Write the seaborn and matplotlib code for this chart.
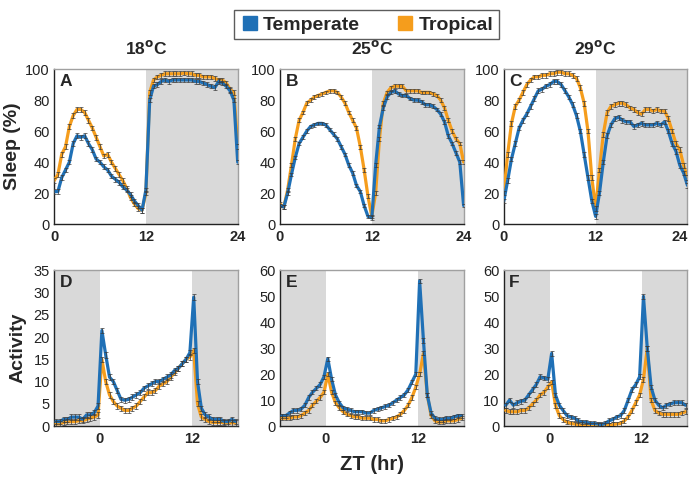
import numpy as np
import pandas as pd
import matplotlib
matplotlib.use("Agg")
import matplotlib.pyplot as plt
from matplotlib.lines import Line2D
import seaborn as sns

# ── Data (30-min bins) ───────────────────────────────────────────────────────
ZT_SLEEP = np.arange(0, 24.01, 0.5)          # 0 .. 24
ZT_ACT = np.arange(-5.75, 18, 0.5)           # -5.75 .. 17.75

TEMPS = ["18", "25", "29"]

sleep_temperate_18 = [21, 21, 30, 35, 40, 52, 57, 56, 57, 52, 48, 42, 40, 37, 35, 31,
                      29, 27, 24, 22, 19, 15, 12, 9, 22, 80, 89, 90, 92, 93, 92, 93,
                      93, 93, 93, 93, 93, 92, 92, 91, 90, 89, 88, 92, 91, 89, 86, 80, 40]
sleep_tropical_18 = [28, 32, 45, 50, 63, 70, 74, 74, 72, 67, 62, 56, 50, 44, 45, 40,
                     36, 32, 28, 23, 17, 13, 10, 9, 20, 85, 93, 95, 96, 97, 97, 97,
                     97, 97, 97.5, 97, 97, 96, 96, 95, 95, 95, 94, 93, 93, 91, 87, 85, 50]

sleep_temperate_25 = [12, 11, 20, 32, 43, 52, 56, 60, 63, 64, 65, 65, 64, 61, 58, 55,
                      50, 45, 38, 33, 25, 21, 12, 5, 4, 38, 63, 75, 82, 85, 86, 84,
                      83, 83, 81, 80, 80, 79, 77, 77, 76, 74, 71, 66, 57, 52, 46, 40, 12]
sleep_tropical_25 = [13, 11, 22, 38, 55, 67, 72, 78, 80, 82, 83, 84, 85, 86, 86, 85,
                     82, 78, 72, 67, 62, 50, 35, 18, 5, 20, 55, 78, 85, 88, 89, 89,
                     89, 86, 86, 86, 86, 85, 85, 85, 84, 83, 80, 75, 67, 60, 55, 52, 40]

sleep_temperate_29 = [15, 28, 42, 52, 62, 67, 71, 76, 81, 86, 87, 89, 90, 92, 92, 90,
                      86, 82, 77, 70, 60, 45, 30, 15, 5, 20, 40, 57, 64, 68, 69, 67,
                      66, 66, 63, 64, 65, 64, 64, 64, 65, 64, 66, 60, 52, 47, 38, 33, 25]
sleep_tropical_29 = [20, 45, 65, 76, 80, 85, 90, 93, 95, 95, 96, 96, 97, 97, 98, 98,
                     97, 97, 96, 94, 88, 78, 60, 30, 10, 35, 58, 72, 76, 77, 78, 78,
                     77, 75, 74, 72, 71, 74, 74, 73, 74, 73, 73, 68, 60, 52, 48, 38, 30]

act_temperate_18 = [1, 1, 1.5, 1.5, 2, 2, 2, 1.5, 2.5, 2.5, 3, 4.5, 21.5, 16, 11, 10,
                    8, 6, 5.8, 6, 6.5, 7, 7.5, 8.5, 9, 9.5, 10, 10, 10.5, 11, 11.5, 12.5,
                    13, 14, 15, 16.5, 29, 10, 4, 2.5, 2, 1.5, 1.5, 1.5, 1, 1, 1.5, 1]
act_tropical_18 = [0.5, 0.5, 0.8, 1, 1, 1, 1.2, 1.2, 1.5, 1.8, 2, 2.5, 15, 10, 7, 5.5,
                   4.5, 4, 3.5, 3.5, 4, 4.5, 5.5, 6.5, 7.5, 7.5, 8, 9, 9.5, 10, 11, 12,
                   13, 14, 15, 15.5, 17, 5, 2, 1.5, 1, 0.8, 0.8, 0.8, 0.8, 0.7, 0.7, 0.7]

act_temperate_25 = [4, 4, 5, 6, 6, 6.5, 8, 11, 13, 14.5, 16, 19, 26, 18, 12, 9,
                    7, 6.5, 6, 5.5, 5.5, 5.5, 5, 5, 6, 6.5, 7, 7.5, 8, 9, 10, 11,
                    12, 14, 17, 20, 56, 33, 12, 5, 3, 2.5, 2.5, 3, 3, 3.5, 4, 4]
act_tropical_25 = [3, 3, 3, 3.5, 3.5, 4, 5, 6, 8, 9.5, 11, 13, 20, 13, 9, 7,
                   5.5, 4.5, 4, 3.5, 3.5, 3, 3, 3, 2.5, 2.5, 2, 2, 2.5, 3, 3.5, 4.5,
                   6, 8, 11, 15, 20, 28, 12, 4, 2, 1.5, 1.5, 2, 2, 2, 2.5, 3]

act_temperate_29 = [8, 10, 8, 9, 9.5, 10, 12, 14, 16, 19, 18.5, 18, 28, 12, 8, 6,
                    4, 3.5, 3, 2, 1.5, 1.5, 1, 1, 0.8, 0.5, 1, 2, 2.5, 3.5, 4, 6,
                    10, 14, 16, 19, 50, 30, 15, 10, 8, 7, 8, 8.5, 9, 9, 9, 8]
act_tropical_29 = [6, 5.5, 5.5, 5.5, 6, 6, 7, 8.5, 10, 12, 13, 15, 17, 8, 4, 2.5,
                   1.5, 1, 0.8, 0.5, 0.5, 0.3, 0.3, 0.3, 0.3, 0.3, 0.3, 0.3, 0.5, 0.8, 1, 2,
                   3.5, 6, 9, 12, 18, 30, 10, 6, 5, 4.5, 4.5, 4.5, 4.5, 4.5, 5, 5.5]

# approximate SEM per panel
sleep_sem = [1.5, 1.2, 1.5]
act_sem = [0.6, 0.8, 0.9]

sleep = {"18": (sleep_temperate_18, sleep_tropical_18),
         "25": (sleep_temperate_25, sleep_tropical_25),
         "29": (sleep_temperate_29, sleep_tropical_29)}
activity = {"18": (act_temperate_18, act_tropical_18),
            "25": (act_temperate_25, act_tropical_25),
            "29": (act_temperate_29, act_tropical_29)}

act_ylim = [35, 60, 60]
act_ystep = [5, 10, 10]

BLUE = "#1f70b6"
ORANGE = "#f59d1c"
SHADE = "#d9d9d9"
palette = {"Temperate": BLUE, "Tropical": ORANGE}

# ── Style ────────────────────────────────────────────────────────────────────
sns.set_style("ticks")
plt.rcParams["font.family"] = ["Liberation Sans", "DejaVu Sans"]

fig = plt.figure(figsize=(6.93, 4.80), dpi=100)

lefts = [0.078, 0.404, 0.727]
width = 0.265
top_axes = [fig.add_axes([l, 0.533, width, 0.323]) for l in lefts]
bot_axes = [fig.add_axes([l, 0.1125, width, 0.324]) for l in lefts]


def long_df(x, temperate, tropical):
    return pd.DataFrame({
        "t": np.concatenate([x, x]),
        "v": np.concatenate([temperate, tropical]),
        "group": ["Temperate"] * len(x) + ["Tropical"] * len(x),
    })


def style_axis(ax):
    for s in ["left", "bottom"]:
        ax.spines[s].set_color("#222222")
        ax.spines[s].set_linewidth(1.0)
    for s in ["top", "right"]:
        ax.spines[s].set_visible(True)
        ax.spines[s].set_color("#a0a0a0")
        ax.spines[s].set_linewidth(1.0)
    ax.tick_params(axis="y", labelsize=10.5, length=0, pad=3, colors="#222222")
    ax.tick_params(axis="x", labelsize=10.5, length=0, pad=4)
    for lab in ax.get_xticklabels():
        lab.set_fontweight("bold")
    ax.set_xlabel("")
    ax.set_ylabel("")


def draw(ax, x, temperate, tropical, sem):
    df = long_df(x, temperate, tropical)
    sns.lineplot(data=df, x="t", y="v", hue="group", hue_order=["Tropical", "Temperate"],
                 palette=palette, lw=2.3, legend=False, ax=ax, zorder=3)
    for vals in (tropical, temperate):
        ax.errorbar(x, vals, yerr=sem, fmt="none", ecolor="#3a3a3a",
                    elinewidth=0.5, capsize=1.6, capthick=0.5, zorder=4)


letters_top = ["A", "B", "C"]
letters_bot = ["D", "E", "F"]

for i, temp in enumerate(TEMPS):
    # sleep
    ax = top_axes[i]
    ax.axvspan(12, 24, color=SHADE, lw=0, zorder=1)
    draw(ax, ZT_SLEEP, *sleep[temp], sleep_sem[i])
    ax.set_xlim(0, 24)
    ax.set_ylim(0, 100)
    ax.set_xticks([0, 12, 24])
    ax.set_yticks(range(0, 101, 20))
    style_axis(ax)
    ax.text(0.03, 0.97, letters_top[i], transform=ax.transAxes, fontsize=12.5,
            fontweight="bold", va="top", ha="left", zorder=5)
    ax.set_title(f"{temp}$^\\mathbf{{o}}$C", fontsize=12.5, fontweight="bold", pad=11)

    # activity
    ax = bot_axes[i]
    ax.axvspan(-6, 0, color=SHADE, lw=0, zorder=1)
    ax.axvspan(12, 18, color=SHADE, lw=0, zorder=1)
    draw(ax, ZT_ACT, *activity[temp], act_sem[i])
    ax.set_xlim(-6, 18)
    ax.set_ylim(0, act_ylim[i])
    ax.set_xticks([0, 12])
    ax.set_yticks(range(0, act_ylim[i] + 1, act_ystep[i]))
    style_axis(ax)
    ax.text(0.03, 0.97, letters_bot[i], transform=ax.transAxes, fontsize=12.5,
            fontweight="bold", va="top", ha="left", zorder=5)

# keep the last "24" label inside the figure, as in the reference
top_axes[2].get_xticklabels()[-1].set_horizontalalignment("right")

top_axes[0].set_ylabel("Sleep (%)", fontsize=14, fontweight="bold", labelpad=3)
bot_axes[0].set_ylabel("Activity", fontsize=14, fontweight="bold", labelpad=5)
fig.text(0.537, 0.032, "ZT (hr)", fontsize=14.5, fontweight="bold", ha="center", va="center")

handles = [Line2D([0], [0], marker="s", color="none", markerfacecolor=BLUE,
                  markeredgecolor=BLUE, markersize=10, label="Temperate"),
           Line2D([0], [0], marker="s", color="none", markerfacecolor=ORANGE,
                  markeredgecolor=ORANGE, markersize=10, label="Tropical")]
leg = fig.legend(handles=handles, loc="upper center", bbox_to_anchor=(0.529, 0.999),
                 ncol=2, frameon=True, fancybox=False, handletextpad=0.2,
                 columnspacing=1.8, handlelength=1.0, borderpad=0.3,
                 prop={"weight": "bold", "size": 14})
leg.get_frame().set_edgecolor("#333333")
leg.get_frame().set_linewidth(1.0)

fig.savefig("out.png", dpi=100)
